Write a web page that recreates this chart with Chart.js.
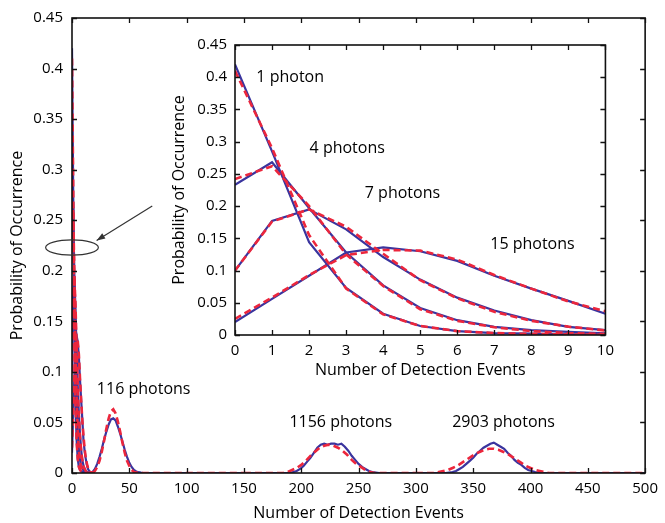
<!DOCTYPE html>
<html>
<head>
<meta charset="utf-8">
<script src="https://cdn.jsdelivr.net/npm/chart.js@4/dist/chart.umd.min.js"></script>
<style>
  html, body { margin: 0; padding: 0; background: #ffffff; }
  #wrap { position: relative; width: 665px; height: 523px; }
  #main { position: absolute; left: 0; top: 0; }
  #inset { position: absolute; left: 170px; top: 28px; }
</style>
</head>
<body>
<div id="wrap">
  <canvas id="main" width="665" height="523"></canvas>
  <canvas id="inset" width="451" height="352"></canvas>
</div>
<script>
// ---------- data ----------
const lowX = [0,1,2,3,4,5,6,7,8,9,10,11,12,13,14,15,16,17,18,19,20];
const ph1Exp  = [0.42,0.285,0.144,0.073,0.033,0.014,0.006,0.003,0.002,0.001,0.001,0.0005,0,0,0,0,0,0,0,0,0];
const ph1Th   = [0.41,0.29,0.155,0.072,0.032,0.014,0.006,0.003,0.0015,0.0008,0.0004,0.0002,0,0,0,0,0,0,0,0,0];
const ph4Exp  = [0.233,0.268,0.197,0.128,0.077,0.042,0.023,0.0126,0.0076,0.005,0.0025,0.0015,0.001,0.0005,0,0,0,0,0,0,0];
const ph4Th   = [0.242,0.262,0.2,0.125,0.076,0.040,0.022,0.012,0.006,0.003,0.0015,0.0008,0.0004,0.0002,0,0,0,0,0,0,0];
const ph7Exp  = [0.1,0.177,0.195,0.164,0.121,0.086,0.058,0.038,0.023,0.0126,0.0076,0.004,0.002,0.001,0.0005,0,0,0,0,0,0];
const ph7Th   = [0.1,0.176,0.195,0.168,0.126,0.085,0.057,0.036,0.022,0.013,0.007,0.004,0.002,0.001,0.0005,0,0,0,0,0,0];
const ph15Exp = [0.02,0.056,0.092,0.128,0.136,0.130,0.115,0.092,0.072,0.053,0.033,0.022,0.014,0.008,0.004,0.002,0.001,0.0005,0,0,0];
const ph15Th  = [0.025,0.058,0.093,0.124,0.132,0.131,0.117,0.093,0.072,0.052,0.037,0.024,0.015,0.009,0.005,0.002,0.001,0.0005,0,0,0];

const x116Exp = [16,18,20,22,24,26,28,30,32,34,36,38,40,42,44,46,48,50,52,54,56,58,60,62,150];
const y116Exp = [0,0.001,0.004,0.009,0.016,0.024,0.033,0.041,0.048,0.053,0.054,0.052,0.046,0.039,0.031,0.023,0.016,0.010,0.006,0.003,0.0015,0.0008,0.0003,0,0];
const x116Th  = [18,20,22,24,26,28,30,32,34,36,38,40,42,44,46,48,50,52,54,56,58,150];
const y116Th  = [0,0.002,0.006,0.012,0.021,0.032,0.044,0.054,0.061,0.063,0.059,0.051,0.041,0.030,0.020,0.012,0.007,0.003,0.001,0.0005,0,0];

const x1156Exp = [150,190,193,196,199,202,205,208,211,214,217,220,223,226,229,232,235,238,241,244,247,250,253,256,259,262,265,268,300];
const y1156Exp = [0,0,0.001,0.002,0.004,0.007,0.011,0.015,0.020,0.025,0.028,0.029,0.028,0.029,0.029,0.028,0.029,0.026,0.022,0.017,0.013,0.009,0.006,0.004,0.002,0.001,0.0005,0,0];
const x1156Th  = [150,184,188,192,196,200,204,208,212,216,220,224,228,232,236,240,244,248,252,256,260,264,300];
const y1156Th  = [0,0,0.001,0.003,0.005,0.008,0.012,0.017,0.021,0.025,0.027,0.028,0.027,0.025,0.022,0.018,0.013,0.009,0.006,0.003,0.001,0,0];

const x2903Exp = [300,326,329,332,335,338,341,344,347,350,353,356,359,362,365,368,371,374,377,380,383,386,389,392,395,398,401,404,407,410,500];
const y2903Exp = [0,0,0.0005,0.001,0.002,0.004,0.006,0.009,0.012,0.015,0.019,0.022,0.025,0.027,0.029,0.030,0.028,0.026,0.024,0.020,0.017,0.013,0.010,0.008,0.005,0.003,0.002,0.001,0.0005,0,0];
const x2903Th  = [300,316,320,324,328,332,336,340,344,348,352,356,360,364,368,372,376,380,384,388,392,396,400,404,408,412,416,500];
const y2903Th  = [0,0,0.001,0.002,0.003,0.005,0.007,0.010,0.013,0.016,0.019,0.021,0.023,0.024,0.024,0.023,0.021,0.019,0.016,0.013,0.010,0.007,0.005,0.003,0.002,0.001,0,0];

const mainLabels  = ['116 photons', '1156 photons', '2903 photons'];
const insetLabels = ['1 photon', '4 photons', '7 photons', '15 photons'];

// ---------- styling ----------
const FONT = "'Open Sans', 'DejaVu Sans', sans-serif";
const BLUE = 'rgb(58,52,158)';
const RED = 'rgb(236,38,60)';
const INK = '#000';

function pts(xs, ys) { return xs.map((x, i) => ({ x: x, y: ys[i] })); }
function expSet(d) { return { data: d, borderColor: BLUE, borderWidth: 2.2, pointRadius: 0, showLine: true, tension: 0, order: 2 }; }
function thSet(d)  { return { data: d, borderColor: RED, borderWidth: 2.6, borderDash: [7, 4], pointRadius: 0, showLine: true, tension: 0, order: 1 }; }

// frame + inward ticks + annotations
const framePlugin = {
  id: 'frame',
  afterDraw(chart, args, opts) {
    const ctx = chart.ctx, a = chart.chartArea;
    const xs = chart.scales.x, ys = chart.scales.y;
    ctx.save();
    ctx.strokeStyle = '#111';
    ctx.lineWidth = 1.6;
    ctx.strokeRect(a.left, a.top, a.right - a.left, a.bottom - a.top);
    ctx.lineWidth = 1.3;
    const L = opts.tick || 5;
    ctx.beginPath();
    xs.ticks.forEach(t => {
      const p = Math.round(xs.getPixelForValue(t.value)) + 0.5;
      ctx.moveTo(p, a.bottom); ctx.lineTo(p, a.bottom - L);
      ctx.moveTo(p, a.top); ctx.lineTo(p, a.top + L);
    });
    ys.ticks.forEach(t => {
      const p = Math.round(ys.getPixelForValue(t.value)) + 0.5;
      ctx.moveTo(a.left, p); ctx.lineTo(a.left + L, p);
      ctx.moveTo(a.right, p); ctx.lineTo(a.right - L, p);
    });
    ctx.stroke();
    // text labels
    ctx.fillStyle = INK;
    ctx.font = (opts.labelSize || 15) + 'px ' + FONT;
    ctx.textAlign = 'center';
    ctx.textBaseline = 'middle';
    (opts.notes || []).forEach(n => {
      ctx.fillText(n.text, xs.getPixelForValue(n.x), ys.getPixelForValue(n.y));
    });
    // ellipse + arrow
    if (opts.ellipse) {
      const e = opts.ellipse;
      const cx = xs.getPixelForValue(e.x), cy = ys.getPixelForValue(e.y);
      const rx = Math.abs(xs.getPixelForValue(e.x + e.rx) - cx);
      const ry = Math.abs(ys.getPixelForValue(e.y + e.ry) - cy);
      ctx.strokeStyle = '#333';
      ctx.lineWidth = 1.2;
      ctx.beginPath();
      ctx.ellipse(cx, cy, rx, ry, 0, 0, Math.PI * 2);
      ctx.stroke();
    }
    if (opts.arrow) {
      const r = opts.arrow;
      const x1 = xs.getPixelForValue(r.x1), y1 = ys.getPixelForValue(r.y1);
      const x2 = xs.getPixelForValue(r.x2), y2 = ys.getPixelForValue(r.y2);
      ctx.strokeStyle = '#333';
      ctx.fillStyle = '#333';
      ctx.lineWidth = 1.2;
      ctx.beginPath(); ctx.moveTo(x1, y1); ctx.lineTo(x2, y2); ctx.stroke();
      const ang = Math.atan2(y2 - y1, x2 - x1), h = 9;
      ctx.beginPath();
      ctx.moveTo(x2, y2);
      ctx.lineTo(x2 - h * Math.cos(ang - 0.35), y2 - h * Math.sin(ang - 0.35));
      ctx.lineTo(x2 - h * Math.cos(ang + 0.35), y2 - h * Math.sin(ang + 0.35));
      ctx.closePath(); ctx.fill();
    }
    ctx.restore();
  }
};

function fmt(v) { return String(Math.round(v * 100) / 100); }

function axis(min, max, step, title, fixed, isX, pad, titlePad) {
  return {
    type: 'linear', min: min, max: max,
    grid: { display: false, drawTicks: false },
    border: { display: false },
    ticks: {
      stepSize: step, autoSkip: false, maxRotation: 0, padding: pad,
      color: INK, font: { family: FONT, size: 15 },
      callback: (v) => fmt(v)
    },
    title: { display: true, text: title, color: INK, font: { family: FONT, size: 16 }, padding: titlePad },
    afterFit(s) { if (isX) s.height = fixed; else s.width = fixed; }
  };
}

Chart.defaults.animation = false;

new Chart(document.getElementById('main'), {
  type: 'scatter',
  data: {
    datasets: [
      expSet(pts(lowX, ph1Exp)), expSet(pts(lowX, ph4Exp)), expSet(pts(lowX, ph7Exp)), expSet(pts(lowX, ph15Exp)),
      expSet(pts(x116Exp, y116Exp)), expSet(pts(x1156Exp, y1156Exp)), expSet(pts(x2903Exp, y2903Exp)),
      thSet(pts(lowX, ph1Th)), thSet(pts(lowX, ph4Th)), thSet(pts(lowX, ph7Th)), thSet(pts(lowX, ph15Th)),
      thSet(pts(x116Th, y116Th)), thSet(pts(x1156Th, y1156Th)), thSet(pts(x2903Th, y2903Th))
    ]
  },
  options: {
    responsive: false, devicePixelRatio: 1, animation: false,
    layout: { padding: { left: 0, top: 18, right: 15, bottom: 0 } },
    plugins: {
      legend: { display: false }, tooltip: { enabled: false },
      frame: {
        tick: 5, labelSize: 16,
        notes: [
          { text: mainLabels[0], x: 62.5, y: 0.083 },
          { text: mainLabels[1], x: 234.5, y: 0.050 },
          { text: mainLabels[2], x: 376.5, y: 0.050 }
        ],
        ellipse: { x: 0, y: 0.223, rx: 23, ry: 0.0075 },
        arrow: { x1: 70, y1: 0.264, x2: 21.5, y2: 0.230 }
      }
    },
    scales: {
      x: axis(0, 500, 50, 'Number of Detection Events', 50, true, 7, { top: 0, bottom: 0 }),
      y: axis(0, 0.45, 0.05, 'Probability of Occurrence', 72, false, 9, { top: 8, bottom: 0 })
    }
  },
  plugins: [framePlugin]
});

new Chart(document.getElementById('inset'), {
  type: 'scatter',
  data: {
    datasets: [
      expSet(pts(lowX, ph1Exp)), expSet(pts(lowX, ph4Exp)), expSet(pts(lowX, ph7Exp)), expSet(pts(lowX, ph15Exp)),
      thSet(pts(lowX, ph1Th)), thSet(pts(lowX, ph4Th)), thSet(pts(lowX, ph7Th)), thSet(pts(lowX, ph15Th))
    ]
  },
  options: {
    responsive: false, devicePixelRatio: 1, animation: false,
    layout: { padding: { left: 0, top: 10, right: 10, bottom: 0 } },
    plugins: {
      legend: { display: false }, tooltip: { enabled: false },
      frame: {
        tick: 5, labelSize: 16,
        notes: [
          { text: insetLabels[0], x: 1.49, y: 0.399 },
          { text: insetLabels[1], x: 3.03, y: 0.289 },
          { text: insetLabels[2], x: 4.52, y: 0.220 },
          { text: insetLabels[3], x: 8.03, y: 0.140 }
        ]
      }
    },
    scales: {
      x: axis(0, 10, 1, 'Number of Detection Events', 45, true, 7, { top: 0, bottom: 0 }),
      y: axis(0, 0.45, 0.05, 'Probability of Occurrence', 65, false, 8, { top: 0, bottom: 0 })
    }
  },
  plugins: [framePlugin]
});
</script>
</body>
</html>
